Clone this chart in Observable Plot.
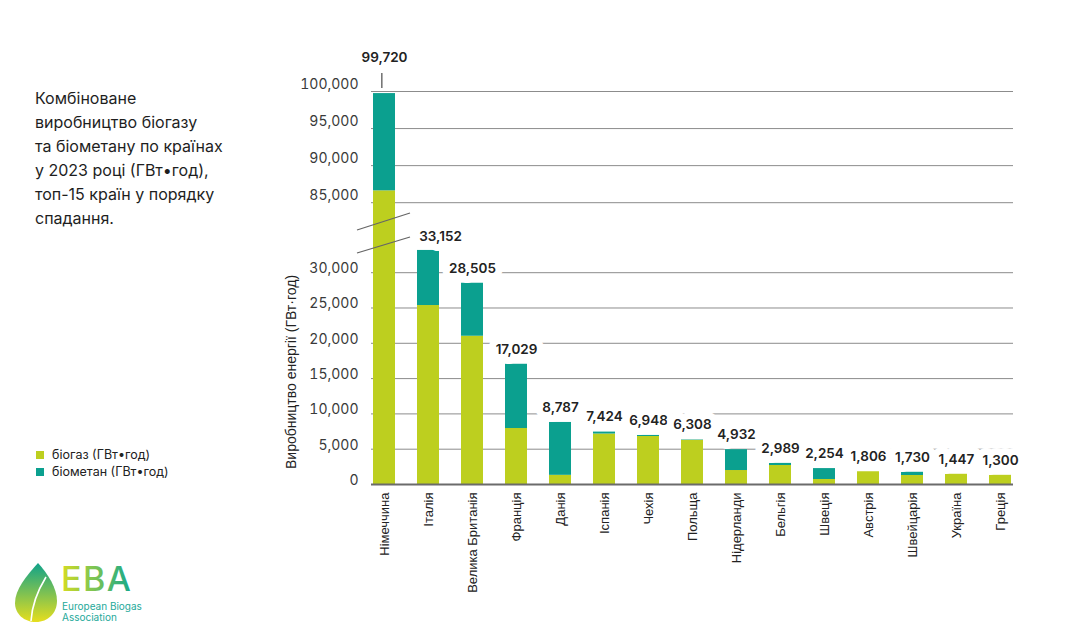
<!DOCTYPE html>
<html>
<head>
<meta charset="utf-8">
<script src="https://cdn.jsdelivr.net/npm/d3@7"></script>
<script src="https://cdn.jsdelivr.net/npm/@observablehq/plot@0.6"></script>
<style>
  body { margin: 0; background: #fff; }
  #wrap { position: relative; width: 1075px; height: 632px; overflow: hidden; font-family: Inter, "Noto Sans", sans-serif; background: #fff; }
  #wrap > svg { position: absolute; left: 0; top: 0; }
  #title { position: absolute; left: 35px; top: 86px; font-size: 16px; line-height: 24px; color: #1e1e1e; }
  #legend { position: absolute; left: 36px; top: 446px; font-size: 12.5px; color: #222; line-height: 17px; }
  #legend .sw { display: inline-block; width: 8px; height: 8px; margin-right: 8px; vertical-align: 0px; }
</style>
</head>
<body>
<div id="wrap">
  <div id="title">Комбіноване<br>виробництво біогазу<br>та біометану по країнах<br>у 2023 році (ГВт•год),<br>топ-15 країн у порядку<br>спадання.</div>
  <div id="legend"></div>
</div>
<script>
// ---- data ----
const countries = ["Німеччина","Італія","Велика Британія","Франція","Данія","Іспанія","Чехія","Польща","Нідерланди","Бельгія","Швеція","Австрія","Швейцарія","Україна","Греція"];
const totals     = [99720, 33152, 28505, 17029, 8787, 7424, 6948, 6308, 4932, 2989, 2254, 1806, 1730, 1447, 1300];
const biogas     = [86600, 25350, 21000,  7930, 1300, 7150, 6800, 6250, 1980, 2690,  710, 1806, 1275, 1447, 1300];
const biomethane = [13120,  7802,  7505,  9099, 7487,  274,  148,   58, 2952,  299, 1544,    0,  455,    0,    0];
const seriesNames = ["біогаз (ГВт•год)", "біометан (ГВт•год)"];
const upperTicks = [85000, 90000, 95000, 100000];
const lowerTicks = [0, 5000, 10000, 15000, 20000, 25000, 30000];
const yLabel = "Виробництво енергії (ГВт·год)";

// ---- style / layout ----
const GREEN = "#bdcf1f", TEAL = "#0ba08f";
const GRID = "#8c8c8c";
const fmt = d3.format(",");
const W = 1075, ML = 371, MR = 62;
const UPPER = {height: 240, marginTop: 91, marginBottom: 0, domain: [79900, 100000]};
const PAD_INNER = 0.49;

const rows = countries.map((c, i) => ({country: c, total: totals[i]}));
const long = [
  ...countries.map((c, i) => ({country: c, series: seriesNames[0], value: biogas[i]})),
  ...countries.map((c, i) => ({country: c, series: seriesNames[1], value: biomethane[i]}))
];

const common = {
  width: W, marginLeft: ML, marginRight: MR,
  style: {background: "transparent", overflow: "visible", fontFamily: "Inter, sans-serif"},
  color: {domain: seriesNames, range: [GREEN, TEAL]}
};
const xScale = {domain: countries, paddingInner: PAD_INNER, paddingOuter: 0, align: 0.5};
const labelStyle = {fontWeight: 600, fontSize: 13.5, fill: "#222", stroke: "white", strokeWidth: 14, strokeLinejoin: "round", paintOrder: "stroke"};

const upper = Plot.plot({
  ...common,
  height: UPPER.height, marginTop: UPPER.marginTop, marginBottom: UPPER.marginBottom,
  x: {...xScale, axis: null},
  y: {domain: UPPER.domain},
  marks: [
    Plot.ruleY(upperTicks, {stroke: GRID, strokeWidth: 1}),
    Plot.barY(long, {x: "country", y: "value", fill: "series", clip: true}),
    Plot.axisY(upperTicks, {tickSize: 0, tickPadding: 13, tickFormat: fmt, fontSize: 14, fill: "#3a3a3a", dy: -7, label: null}),
    Plot.text(rows.slice(0, 1), {x: "country", y: "total", text: d => fmt(d.total), dy: -36, ...labelStyle})
  ]
});

const lower = Plot.plot({
  ...common,
  height: 632, marginTop: 240, marginBottom: 148,
  x: xScale,
  y: {domain: [0, 34560]},
  marks: [
    Plot.ruleY(lowerTicks.filter(d => d > 0), {stroke: GRID, strokeWidth: 1}),
    Plot.barY(long, {x: "country", y: "value", fill: "series", clip: true}),
    Plot.ruleY([0], {stroke: "#6b6b6b", strokeWidth: 2}),
    Plot.axisY(lowerTicks, {tickSize: 0, tickPadding: 13, tickFormat: fmt, fontSize: 14, fill: "#3a3a3a", dy: -4, label: null}),
    Plot.axisX({tickSize: 0, tickPadding: 8, tickRotate: -90, fontSize: 13, fontFamily: "Liberation Sans, Arial, sans-serif", fill: "#222", label: null}),
    Plot.text(rows.filter((d, i) => i >= 2), {x: "country", y: "total", text: d => fmt(d.total), dy: -15, ...labelStyle}),
    Plot.text(rows.filter((d, i) => i === 1), {x: "country", y: "total", text: d => fmt(d.total), dy: -14, dx: 12, ...labelStyle})
  ]
});

const wrap = document.getElementById("wrap");
wrap.appendChild(upper);
wrap.appendChild(lower);

// overlay: leader line (same scale definition as the upper plot), axis title, axis-break marks, logo
const ov = d3.select(wrap).append("svg").attr("width", W).attr("height", 632)
  .style("position", "absolute").style("left", "0px").style("top", "0px");

const xb = d3.scaleBand(countries, [ML, W - MR]).paddingInner(PAD_INNER).paddingOuter(0);
const yl = d3.scaleLinear(UPPER.domain, [UPPER.height - UPPER.marginBottom, UPPER.marginTop]);
const lx = Math.round(xb(countries[0]) + xb.bandwidth() / 2);
const ly = Math.round(yl(totals[0]));
ov.append("rect").attr("x", lx - 1).attr("y", ly - 20).attr("width", 1.6).attr("height", 15)
  .attr("fill", "#777");

ov.append("text")
  .attr("transform", "translate(296,372) rotate(-90)")
  .attr("text-anchor", "middle")
  .attr("font-family", "Liberation Sans, Arial, sans-serif")
  .attr("font-size", 14).attr("fill", "#222")
  .text(yLabel);
[[357, 230, 410, 213], [357, 253, 410, 237]].forEach(([a, b, c, d]) =>
  ov.append("line").attr("x1", a).attr("y1", b).attr("x2", c).attr("y2", d)
    .attr("stroke", "#666").attr("stroke-width", 1.3));

// logo
const defs = ov.append("defs");
const g1 = defs.append("linearGradient").attr("id", "leafG").attr("x1", 0).attr("y1", 0).attr("x2", 0).attr("y2", 1);
g1.append("stop").attr("offset", "0%").attr("stop-color", "#0fa28a");
g1.append("stop").attr("offset", "100%").attr("stop-color", "#e6de1e");
const g2 = defs.append("linearGradient").attr("id", "ebaG").attr("x1", 0).attr("y1", 0).attr("x2", 1).attr("y2", 0);
g2.append("stop").attr("offset", "0%").attr("stop-color", "#d6dc22");
g2.append("stop").attr("offset", "100%").attr("stop-color", "#14a88c");
ov.append("path")
  .attr("d", "M38,563 C26,576 15,590 15,603 C15,614 24,622 36,622 C48,622 57,613 57,601 C57,588 48,574 38,563 Z")
  .attr("fill", "url(#leafG)");
ov.append("path")
  .attr("d", "M46,577 C38,590 32,604 31,621")
  .attr("fill", "none").attr("stroke", "white").attr("stroke-width", 1.6);
ov.append("text").attr("x", 61).attr("y", 591).attr("font-size", 34).attr("font-weight", 500)
  .attr("font-family", "Inter, sans-serif").attr("fill", "url(#ebaG)").attr("letter-spacing", 1.5).text("EBA");
ov.append("text").attr("x", 62).attr("y", 610).attr("font-size", 10).attr("font-family", "Inter, sans-serif")
  .attr("fill", "#25a99a").text("European Biogas");
ov.append("text").attr("x", 62).attr("y", 621).attr("font-size", 10).attr("font-family", "Inter, sans-serif")
  .attr("fill", "#25a99a").text("Association");

// legend
const legend = d3.select("#legend");
seriesNames.forEach((s, i) => {
  const r = legend.append("div");
  r.append("span").attr("class", "sw").style("background", [GREEN, TEAL][i]);
  r.append("span").text(s);
});
</script>
</body>
</html>
